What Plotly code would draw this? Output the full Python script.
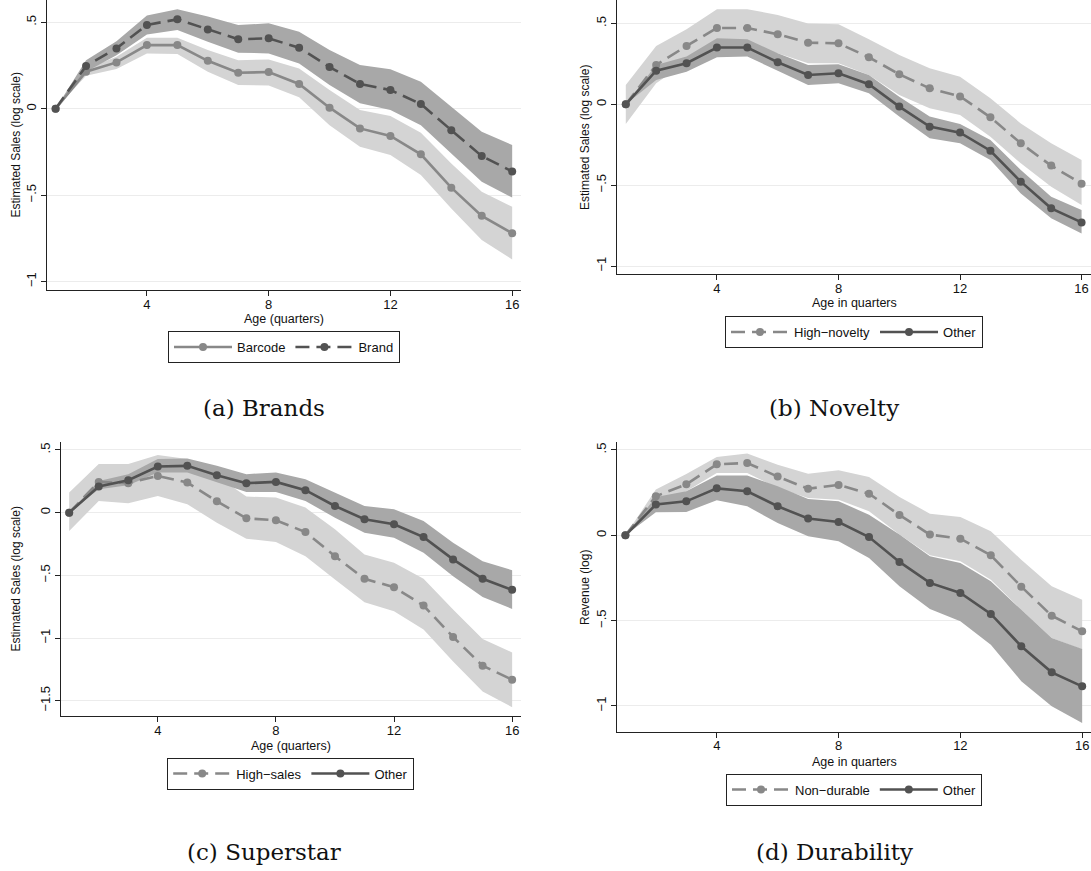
import plotly.graph_objects as go

# ---- data: estimated sales by product age (quarters) ----
age = list(range(1, 17))

# (a) Brands
barcode = [0, 0.214, 0.268, 0.368, 0.368, 0.277, 0.208, 0.212, 0.143, 0.006, -0.114, -0.158, -0.264, -0.457, -0.620, -0.721]
barcode_hi = [0, 0.23, 0.30, 0.41, 0.41, 0.34, 0.28, 0.285, 0.233, 0.108, -0.008, -0.042, -0.139, -0.317, -0.48, -0.567]
barcode_lo = [0, 0.19, 0.23, 0.32, 0.316, 0.214, 0.137, 0.135, 0.066, -0.095, -0.22, -0.268, -0.384, -0.577, -0.76, -0.872]
brand = [0, 0.247, 0.349, 0.485, 0.517, 0.459, 0.402, 0.407, 0.353, 0.241, 0.143, 0.108, 0.027, -0.124, -0.274, -0.363]
brand_hi = [0, 0.28, 0.39, 0.54, 0.575, 0.533, 0.484, 0.494, 0.446, 0.34, 0.253, 0.228, 0.156, 0.012, -0.133, -0.21]
brand_lo = [0, 0.214, 0.31, 0.43, 0.455, 0.388, 0.324, 0.32, 0.262, 0.137, 0.031, -0.008, -0.095, -0.259, -0.423, -0.514]

# (b) Novelty
novel = [0, 0.243, 0.361, 0.472, 0.472, 0.433, 0.381, 0.377, 0.291, 0.186, 0.099, 0.049, -0.080, -0.241, -0.379, -0.491]
novel_hi = [0.12, 0.36, 0.464, 0.588, 0.588, 0.553, 0.50, 0.495, 0.402, 0.305, 0.223, 0.171, 0.037, -0.118, -0.241, -0.344]
novel_lo = [-0.122, 0.13, 0.26, 0.357, 0.357, 0.315, 0.254, 0.254, 0.181, 0.058, -0.025, -0.066, -0.2, -0.365, -0.509, -0.623]
other_b = [0, 0.208, 0.254, 0.351, 0.351, 0.26, 0.181, 0.192, 0.124, -0.014, -0.138, -0.175, -0.287, -0.478, -0.643, -0.730]
other_b_hi = [0, 0.243, 0.295, 0.408, 0.402, 0.315, 0.243, 0.247, 0.181, 0.047, -0.076, -0.122, -0.221, -0.406, -0.571, -0.654]
other_b_lo = [0, 0.15, 0.202, 0.291, 0.295, 0.208, 0.12, 0.13, 0.068, -0.076, -0.21, -0.241, -0.344, -0.551, -0.705, -0.798]

# (c) Superstar
high_sales = [0, 0.245, 0.235, 0.293, 0.24, 0.091, -0.045, -0.061, -0.155, -0.347, -0.528, -0.595, -0.741, -0.992, -1.221, -1.333]
high_sales_hi = [0.16, 0.387, 0.387, 0.459, 0.427, 0.293, 0.128, 0.12, 0.04, -0.133, -0.333, -0.4, -0.528, -0.773, -1.008, -1.115]
high_sales_lo = [-0.147, 0.093, 0.075, 0.133, 0.067, -0.08, -0.208, -0.235, -0.347, -0.533, -0.715, -0.787, -0.933, -1.187, -1.427, -1.552]
other_c = [0, 0.208, 0.259, 0.368, 0.373, 0.299, 0.235, 0.245, 0.179, 0.053, -0.053, -0.093, -0.195, -0.373, -0.528, -0.616]
other_c_hi = [0, 0.253, 0.307, 0.427, 0.432, 0.373, 0.307, 0.32, 0.267, 0.16, 0.053, 0.027, -0.067, -0.24, -0.387, -0.459]
other_c_lo = [0, 0.187, 0.219, 0.32, 0.32, 0.24, 0.165, 0.165, 0.093, -0.04, -0.16, -0.2, -0.32, -0.507, -0.672, -0.768]

# (d) Durability
nondurable = [0, 0.229, 0.299, 0.416, 0.424, 0.344, 0.273, 0.295, 0.244, 0.119, 0.004, -0.02, -0.117, -0.301, -0.471, -0.563]
nondurable_hi = [0, 0.268, 0.359, 0.459, 0.479, 0.414, 0.361, 0.381, 0.342, 0.225, 0.127, 0.107, 0.023, -0.143, -0.299, -0.377]
nondurable_lo = [0, 0.19, 0.258, 0.365, 0.365, 0.277, 0.219, 0.209, 0.141, 0.004, -0.117, -0.152, -0.26, -0.436, -0.602, -0.67]
other_d = [0, 0.18, 0.199, 0.275, 0.258, 0.17, 0.098, 0.078, -0.01, -0.156, -0.279, -0.338, -0.461, -0.65, -0.803, -0.885]
other_d_hi = [0, 0.225, 0.258, 0.35, 0.35, 0.287, 0.213, 0.199, 0.121, 0.004, -0.123, -0.162, -0.27, -0.436, -0.602, -0.666]
other_d_lo = [0, 0.135, 0.137, 0.205, 0.17, 0.072, -0.006, -0.035, -0.133, -0.299, -0.432, -0.504, -0.641, -0.855, -1.002, -1.1]

x_tickvals = [4, 8, 12, 16]
y_tickvals_ab = [0.5, 0, -0.5, -1]
y_ticktext_ab = [".5", "0", "\u2212.5", "\u22121"]
y_tickvals_c = [0.5, 0, -0.5, -1, -1.5]
y_ticktext_c = [".5", "0", "\u2212.5", "\u22121", "\u22121.5"]

# ---- styling ----
W, H = 1091, 871
LIGHT_BAND, DARK_BAND = "#d4d4d4", "#a8a8a8"
LIGHT_LINE, DARK_LINE = "#888888", "#525252"
SANS = "Liberation Sans"
SERIF = "DejaVu Serif"
DASH = "14px,7px"


def px_x(p):
    return p / W


def px_y(p):
    return 1 - p / H


fig = go.Figure()


def band(ax, lo, hi, color):
    fig.add_trace(go.Scatter(
        x=age + age[::-1], y=hi + lo[::-1], fill="toself", fillcolor=color,
        line=dict(width=0), mode="lines", hoverinfo="skip", showlegend=False,
        xaxis="x" + ax, yaxis="y" + ax))


def series(ax, y, name, color, dash, legend):
    fig.add_trace(go.Scatter(
        x=age, y=y, name=name, mode="lines+markers",
        line=dict(color=color, width=2.6, dash=dash),
        marker=dict(color=color, size=8),
        xaxis="x" + ax, yaxis="y" + ax, legend=legend))


# panel (a): Barcode vs Brand
band("", barcode_lo, barcode_hi, LIGHT_BAND)
band("", brand_lo, brand_hi, DARK_BAND)
series("", barcode, "Barcode", LIGHT_LINE, "solid", "legend")
series("", brand, "Brand", DARK_LINE, DASH, "legend")

# panel (b): High-novelty vs Other
band("2", novel_lo, novel_hi, LIGHT_BAND)
band("2", other_b_lo, other_b_hi, DARK_BAND)
series("2", novel, "High\u2212novelty", LIGHT_LINE, DASH, "legend2")
series("2", other_b, "Other", DARK_LINE, "solid", "legend2")

# panel (c): High-sales vs Other
band("3", high_sales_lo, high_sales_hi, LIGHT_BAND)
band("3", other_c_lo, other_c_hi, DARK_BAND)
series("3", high_sales, "High\u2212sales", LIGHT_LINE, DASH, "legend3")
series("3", other_c, "Other", DARK_LINE, "solid", "legend3")

# panel (d): Non-durable vs Other
band("4", nondurable_lo, nondurable_hi, LIGHT_BAND)
band("4", other_d_lo, other_d_hi, DARK_BAND)
series("4", nondurable, "Non\u2212durable", LIGHT_LINE, DASH, "legend4")
series("4", other_d, "Other", DARK_LINE, "solid", "legend4")

# plot areas in pixels: (left, right, top, bottom) and axis ranges
panels = {
    "": dict(box=(47.2, 521, 0, 290), xr=[0.724, 16.29], yr=[-1.049, 0.629],
             tv=y_tickvals_ab, tt=y_ticktext_ab),
    "2": dict(box=(617.4, 1091, 0, 274.3), xr=[0.724, 16.31], yr=[-1.051, 0.645],
              tv=y_tickvals_ab, tt=y_ticktext_ab),
    "3": dict(box=(61.2, 521, 442.3, 716), xr=[0.729, 16.30], yr=[-1.622, 0.561],
              tv=y_tickvals_c, tt=y_ticktext_c),
    "4": dict(box=(617.4, 1091, 442.3, 731.7), xr=[0.737, 16.29], yr=[-1.151, 0.545],
              tv=y_tickvals_ab, tt=y_ticktext_ab),
}

layout = dict(
    width=W, height=H, margin=dict(l=0, r=0, t=0, b=0),
    paper_bgcolor="white", plot_bgcolor="white",
    font=dict(family=SANS, size=13, color="#111111"),
    showlegend=True,
)

for ax, p in panels.items():
    l, r, t, b = p["box"]
    layout["xaxis" + ax] = dict(
        domain=[px_x(l), px_x(r)], range=p["xr"], anchor="y" + ax,
        tickvals=x_tickvals, ticks="outside", ticklen=5, tickwidth=1.2,
        tickcolor="#222", showline=True, linecolor="#222", linewidth=1.3,
        showgrid=False, zeroline=False, tickfont=dict(size=13, family=SANS),
        ticklabelstandoff=-3, fixedrange=True)
    layout["yaxis" + ax] = dict(
        domain=[px_y(b), px_y(t)], range=p["yr"], anchor="x" + ax,
        tickvals=p["tv"], ticktext=p["tt"], tickangle=-90,
        ticks="outside", ticklen=5, tickwidth=1.2, tickcolor="#222",
        showline=True, linecolor="#222", linewidth=1.3,
        showgrid=True, gridcolor="#ececec", gridwidth=1, zeroline=False,
        tickfont=dict(size=13, family=SANS), fixedrange=True)


def legend_cfg(cx, top):
    return dict(orientation="h", x=px_x(cx), y=px_y(top), xanchor="center",
                yanchor="top", bordercolor="#222", borderwidth=1,
                bgcolor="white", font=dict(size=13, family=SANS),
                itemwidth=58, tracegroupgap=0)


layout["legend"] = legend_cfg(284, 331)
layout["legend2"] = legend_cfg(854, 316)
layout["legend3"] = legend_cfg(290.7, 757.5)
layout["legend4"] = legend_cfg(854, 773.5)

annotations = []


def text(xp, yp, s, size, family=SANS, angle=0):
    annotations.append(dict(
        x=px_x(xp), y=px_y(yp), xref="paper", yref="paper", text=s,
        showarrow=False, textangle=angle, xanchor="center", yanchor="middle",
        font=dict(size=size, family=family, color="#111111")))


# axis titles
text(284, 319.5, "Age (quarters)", 12.5)
text(854, 303, "Age in quarters", 12.5)
text(291, 745.5, "Age (quarters)", 12.5)
text(854, 761.5, "Age in quarters", 12.5)
text(15.5, 145, "Estimated Sales (log scale)", 12, angle=-90)
text(585, 137, "Estimated Sales (log scale)", 12, angle=-90)
text(15.5, 579, "Estimated Sales (log scale)", 12, angle=-90)
text(585, 587, "Revenue (log)", 12, angle=-90)

# panel captions
text(264, 408, "(a) Brands", 23, SERIF)
text(834, 408, "(b) Novelty", 23, SERIF)
text(264, 851.5, "(c) Superstar", 23, SERIF)
text(834, 851.5, "(d) Durability", 23, SERIF)

layout["annotations"] = annotations
fig.update_layout(**layout)

fig.write_html("out.html")
